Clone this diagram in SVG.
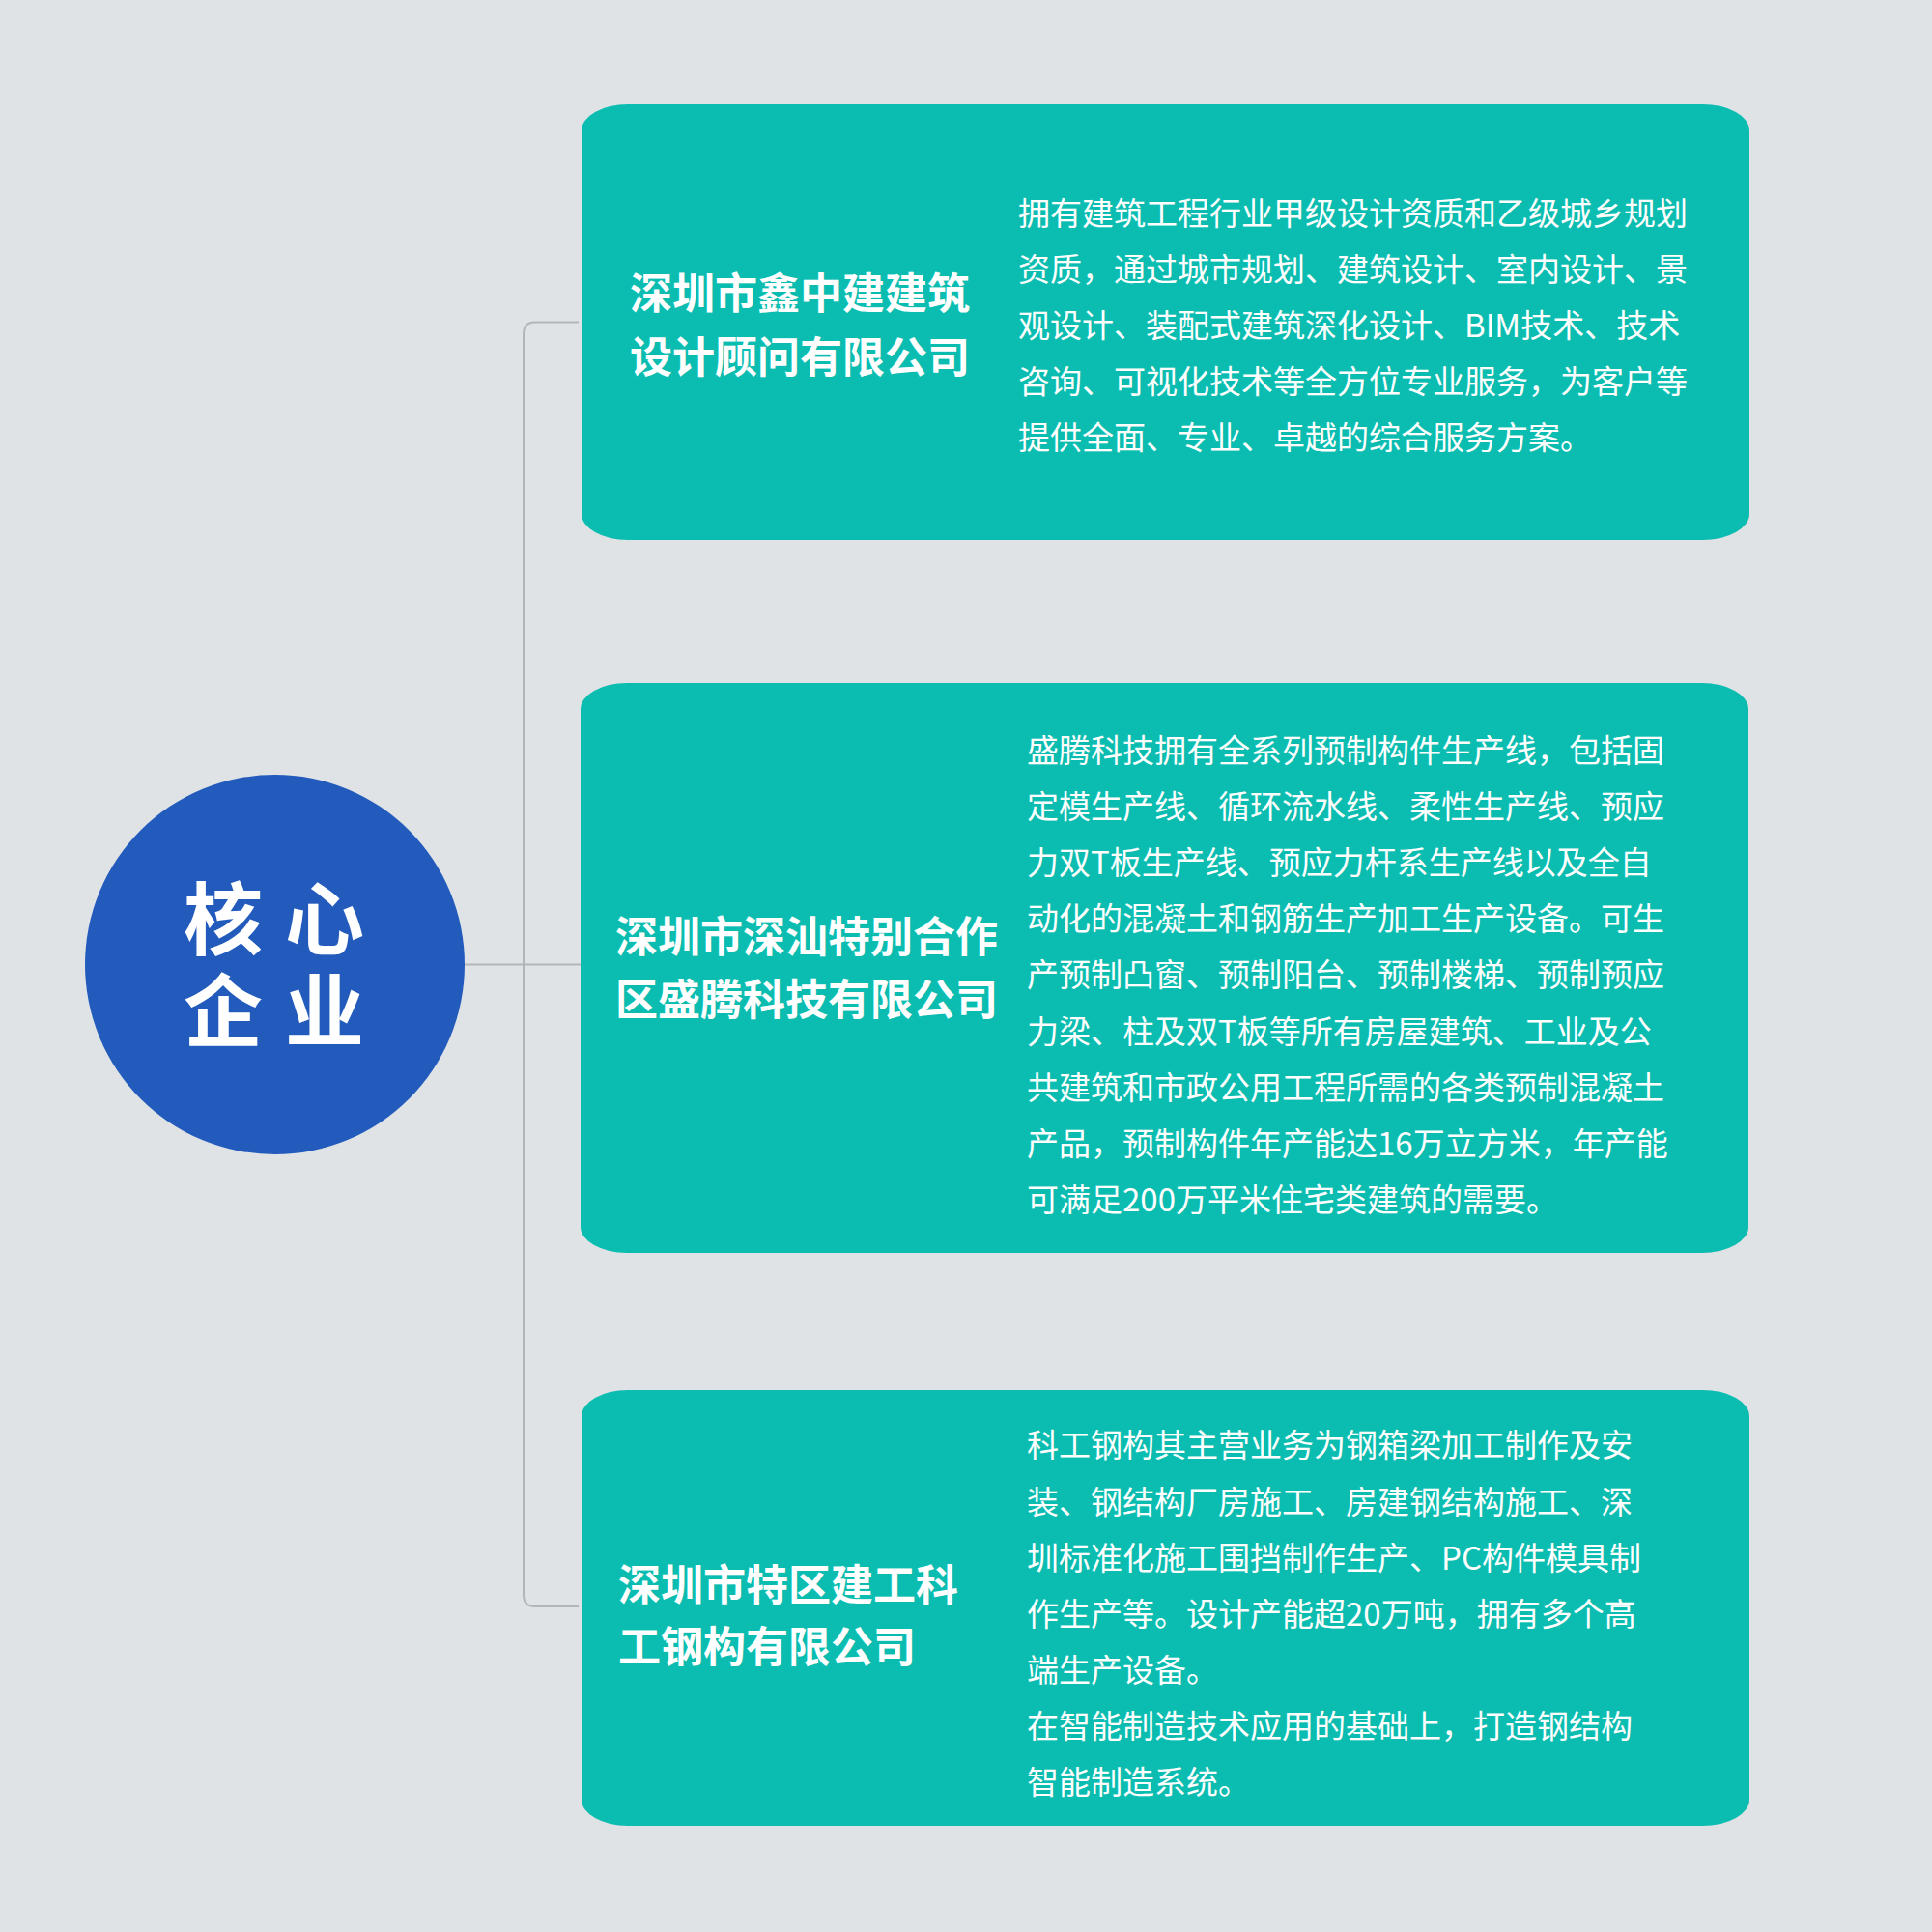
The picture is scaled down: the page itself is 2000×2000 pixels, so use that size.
<svg xmlns="http://www.w3.org/2000/svg" width="2000" height="2000" viewBox="0 0 2000 2000">
<style>
.bg{fill:#dfe3e6}
.card{fill:#0bbdb0}
.hub{fill:#235bbd}
.conn{fill:none;stroke:#b3b6b9;stroke-width:2}
.title{font-family:"Noto Sans CJK SC","Noto Sans",sans-serif;font-weight:700;font-size:44px;fill:#ffffff}
.desc{font-family:"Noto Sans CJK SC","Noto Sans",sans-serif;font-weight:400;font-size:33px;fill:#ffffff}
.hubt{font-family:"Noto Sans CJK SC","Noto Sans",sans-serif;font-weight:700;font-size:82px;fill:#ffffff;text-anchor:middle}
</style>
<rect class="bg" x="0" y="0" width="2000" height="2000"/>
<g id="connectors">
<path class="conn" d="M481 998.5 H601"/>
<path class="conn" d="M599 333.5 H554 Q542 333.5 542 345.5 V1651 Q542 1663 554 1663 H599"/>
</g>
<g id="hub">
<circle class="hub" cx="284.5" cy="998.5" r="196.5"/>
<text class="hubt"><tspan x="231" y="982">核</tspan><tspan x="336" y="982">心</tspan><tspan x="231" y="1077">企</tspan><tspan x="336" y="1077">业</tspan></text>
</g>
<g id="node1">
<rect class="card" x="602" y="108" width="1209" height="451" rx="48" ry="27"/>
<text class="title"><tspan x="652" y="320">深圳市鑫中建建筑</tspan><tspan x="652" y="386">设计顾问有限公司</tspan></text>
<text class="desc"><tspan x="1054" y="233">拥有建筑工程行业甲级设计资质和乙级城乡规划</tspan><tspan x="1054" y="291">资质，通过城市规划、建筑设计、室内设计、景</tspan><tspan x="1054" y="349">观设计、装配式建筑深化设计、BIM技术、技术</tspan><tspan x="1054" y="407">咨询、可视化技术等全方位专业服务，为客户等</tspan><tspan x="1054" y="465">提供全面、专业、卓越的综合服务方案。</tspan></text>
</g>
<g id="node2">
<rect class="card" x="601" y="707" width="1209" height="590" rx="48" ry="27"/>
<text class="title"><tspan x="637" y="986">深圳市深汕特别合作</tspan><tspan x="637" y="1051">区盛腾科技有限公司</tspan></text>
<text class="desc"><tspan x="1063" y="789">盛腾科技拥有全系列预制构件生产线，包括固</tspan><tspan x="1063" y="847">定模生产线、循环流水线、柔性生产线、预应</tspan><tspan x="1063" y="905">力双T板生产线、预应力杆系生产线以及全自</tspan><tspan x="1063" y="963">动化的混凝土和钢筋生产加工生产设备。可生</tspan><tspan x="1063" y="1021">产预制凸窗、预制阳台、预制楼梯、预制预应</tspan><tspan x="1063" y="1080">力梁、柱及双T板等所有房屋建筑、工业及公</tspan><tspan x="1063" y="1138">共建筑和市政公用工程所需的各类预制混凝土</tspan><tspan x="1063" y="1196">产品，预制构件年产能达16万立方米，年产能</tspan><tspan x="1063" y="1254">可满足200万平米住宅类建筑的需要。</tspan></text>
</g>
<g id="node3">
<rect class="card" x="602" y="1439" width="1209" height="451" rx="48" ry="27"/>
<text class="title"><tspan x="640" y="1657">深圳市特区建工科</tspan><tspan x="640" y="1721">工钢构有限公司</tspan></text>
<text class="desc"><tspan x="1063" y="1508">科工钢构其主营业务为钢箱梁加工制作及安</tspan><tspan x="1063" y="1567">装、钢结构厂房施工、房建钢结构施工、深</tspan><tspan x="1063" y="1625">圳标准化施工围挡制作生产、PC构件模具制</tspan><tspan x="1063" y="1683">作生产等。设计产能超20万吨，拥有多个高</tspan><tspan x="1063" y="1741">端生产设备。</tspan><tspan x="1063" y="1799">在智能制造技术应用的基础上，打造钢结构</tspan><tspan x="1063" y="1857">智能制造系统。</tspan></text>
</g>
</svg>
